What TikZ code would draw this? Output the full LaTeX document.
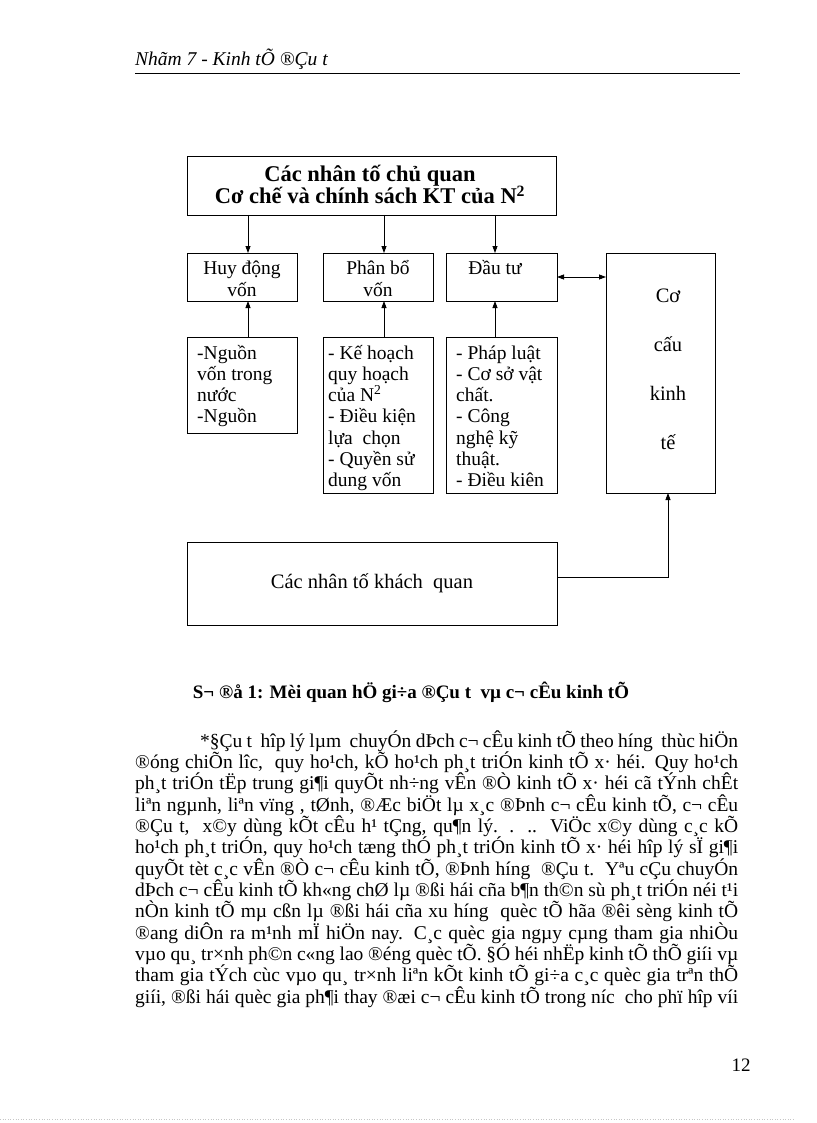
\documentclass[tikz,border=0pt]{standalone}
\usepackage{fontspec}
\setmainfont{Liberation Serif}
\usetikzlibrary{arrows.meta}
\tikzset{
  box/.style={draw, line width=0.8pt, inner sep=0pt, outer sep=0pt, anchor=north west},
  arr/.style={-{Triangle[length=7pt,width=5pt]}, line width=0.8pt},
  darr/.style={{Triangle[length=7pt,width=5pt]}-{Triangle[length=7pt,width=5pt]}, line width=0.8pt},
  btxt/.style={inner sep=0pt, anchor=base, font=\fontsize{19.5}{22}\selectfont},
  toptxt/.style={inner sep=0pt, anchor=base, font=\bfseries\fontsize{22.5}{24}\selectfont},
  dtxt/.style={inner sep=0pt, anchor=base west, font=\fontsize{19.5}{21}\selectfont},
  bodyl/.style={inner sep=0pt, anchor=base west, font=\fontsize{19.5}{21}\selectfont},
}
\begin{document}
\begin{tikzpicture}[x=1pt,y=-1pt]
\useasboundingbox[fill=white] (0,0) rectangle (816,1123);
% header
\node[inner sep=0pt, anchor=base west, font=\itshape\fontsize{19.5}{22}\selectfont] (hdr) at (135,66) {Nhãm 7 - Kinh tÕ ®Çu t};
\draw[line width=0.8pt] (135,73) -- (740,73);
% boxes
\node[box, minimum width=369pt, minimum height=59pt] (top) at (187,156) {};
\node[toptxt] (top1) at (370,182) {Các nhân tố chủ quan};
\node[toptxt] (top2) at (370,204) {Cơ chế và chính sách KT của N\textsuperscript{2}};
\node[box, minimum width=110pt, minimum height=48pt] (h1) at (187,253) {};
\node[box, minimum width=110pt, minimum height=48pt] (h2) at (323,253) {};
\node[box, minimum width=111pt, minimum height=48pt] (h3) at (446,253) {};
\node[btxt] (h1a) at (242,274) {Huy động};
\node[btxt] (h1b) at (242,296) {vốn};
\node[btxt] (h2a) at (378,274) {Phân bổ};
\node[btxt] (h2b) at (378,296) {vốn};
\node[btxt] (h3a) at (495,274) {Đầu tư};
\node[box, minimum width=110pt, minimum height=96pt] (d1) at (187,337) {};
\node[box, minimum width=110pt, minimum height=156pt] (d2) at (323,337) {};
\node[box, minimum width=111pt, minimum height=156pt] (d3) at (446,337) {};
\node[box, minimum width=109pt, minimum height=240pt] (cc) at (606,253) {};
\node[box, minimum width=370pt, minimum height=83pt, font=\fontsize{20.5}{23}\selectfont] (kq) at (187,542) {Các nhân tố khách\ \ quan};
% detail texts
\begin{scope}
\clip (d1.north west) rectangle (d1.south east);
\foreach \t [count=\i from 0] in {-Nguồn, vốn trong, nước, -Nguồn}
  \node[dtxt] (d1l\i) at (197,359+21.3*\i) {\t};
\end{scope}
\begin{scope}
\clip (d2.north west) rectangle (d2.south east);
\foreach \t [count=\i from 0] in {- Kế hoạch, quy hoạch, của N\textsuperscript{2}, - Điều kiện, lựa\ \ chọn, - Quyền sử, dung vốn}
  \node[dtxt] (d2l\i) at (328,359+21.3*\i) {\t};
\end{scope}
\begin{scope}
\clip (d3.north west) rectangle (d3.south east);
\foreach \t [count=\i from 0] in {- Pháp luật, - Cơ sở vật, chất., - Công, nghệ kỹ, thuật., - Điều kiên}
  \node[dtxt] (d3l\i) at (456,359+21.3*\i) {\t};
\end{scope}
% right box text
\foreach \t [count=\i from 0] in {Cơ, cấu, kinh, tế}
  \node[btxt, font=\fontsize{20.5}{23}\selectfont] (ccl\i) at (668,302+49*\i) {\t};
% connectors
\coordinate (a1) at (248,0);
\coordinate (a2) at (384,0);
\coordinate (a3) at (495,0);
\coordinate (a4) at (668,577);
\draw[arr] (top.south -| a1) -- (h1.north -| a1);
\draw[arr] (top.south -| a2) -- (h2.north -| a2);
\draw[arr] (top.south -| a3) -- (h3.north -| a3);
\draw[arr] (d1.north -| a1) -- (h1.south -| a1);
\draw[arr] (d2.north -| a2) -- (h2.south -| a2);
\draw[arr] (d3.north -| a3) -- (h3.south -| a3);
\draw[darr] (h3.east) -- (cc.west |- h3.east);
\draw[arr] (kq.east |- a4) -| (cc.south -| a4);
% caption
\node[inner sep=0pt, anchor=base, font=\bfseries\fontsize{19}{21}\selectfont] (cap) at (411,698) {S¬ ®å 1: Mèi quan hÖ gi÷a ®Çu t\ \ vµ c¬ cÊu kinh tÕ};
% paragraph
\node[bodyl] (l1) at (200,747) {\makebox[538pt][s]{*§Çu t\ \ hîp lý lµm\ \ chuyÓn dÞch c¬ cÊu kinh tÕ theo híng\ \ thùc hiÖn}};
\node[bodyl] (l2) at (135,768.33) {\makebox[603pt][s]{®óng chiÕn lîc,\ \ quy ho¹ch, kÕ ho¹ch ph¸t triÓn kinh tÕ x· héi. Quy ho¹ch}};
\node[bodyl] (l3) at (135,789.67) {\makebox[603pt][s]{ph¸t triÓn tËp trung gi¶i quyÕt nh÷ng vÊn ®Ò kinh tÕ x· héi cã tÝnh chÊt}};
\node[bodyl] (l4) at (135,811) {\makebox[603pt][s]{liªn ngµnh, liªn vïng , tØnh, ®Æc biÖt lµ x¸c ®Þnh c¬ cÊu kinh tÕ, c¬ cÊu}};
\node[bodyl] (l5) at (135,832.33) {\makebox[603pt][s]{®Çu t,\ \ x©y dùng kÕt cÊu h¹ tÇng, qu¶n lý. .\ \ ..\ \ ViÖc x©y dùng c¸c kÕ}};
\node[bodyl] (l6) at (135,853.67) {\makebox[603pt][s]{ho¹ch ph¸t triÓn, quy ho¹ch tæng thÓ ph¸t triÓn kinh tÕ x· héi hîp lý sÏ gi¶i}};
\node[bodyl] (l7) at (135,875) {\makebox[603pt][s]{quyÕt tèt c¸c vÊn ®Ò c¬ cÊu kinh tÕ, ®Þnh híng\ \ ®Çu t.\ \ Yªu cÇu chuyÓn}};
\node[bodyl] (l8) at (135,896.33) {\makebox[603pt][s]{dÞch c¬ cÊu kinh tÕ kh«ng chØ lµ ®ßi hái cña b¶n th©n sù ph¸t triÓn néi t¹i}};
\node[bodyl] (l9) at (135,917.67) {\makebox[603pt][s]{nÒn kinh tÕ mµ cßn lµ ®ßi hái cña xu híng\ \ quèc tÕ hãa ®êi sèng kinh tÕ}};
\node[bodyl] (l10) at (135,939) {\makebox[603pt][s]{®ang diÔn ra m¹nh mÏ hiÖn nay. C¸c quèc gia ngµy cµng tham gia nhiÒu}};
\node[bodyl] (l11) at (135,960.33) {\makebox[603pt][s]{vµo qu¸ tr×nh ph©n c«ng lao ®éng quèc tÕ. §Ó héi nhËp kinh tÕ thÕ giíi vµ}};
\node[bodyl] (l12) at (135,981.67) {\makebox[603pt][s]{tham gia tÝch cùc vµo qu¸ tr×nh liªn kÕt kinh tÕ gi÷a c¸c quèc gia trªn thÕ}};
\node[bodyl] (l13) at (135,1003) {\makebox[603pt][s]{giíi, ®ßi hái quèc gia ph¶i thay ®æi c¬ cÊu kinh tÕ trong níc\ \ cho phï hîp víi}};
% page number
\node[inner sep=0pt, anchor=base, font=\fontsize{19}{21}\selectfont] (pg) at (741,1071) {12};
\draw[gray!45, dotted, line width=0.6pt] (0,1119) -- (795,1119);
\end{tikzpicture}
\end{document}
